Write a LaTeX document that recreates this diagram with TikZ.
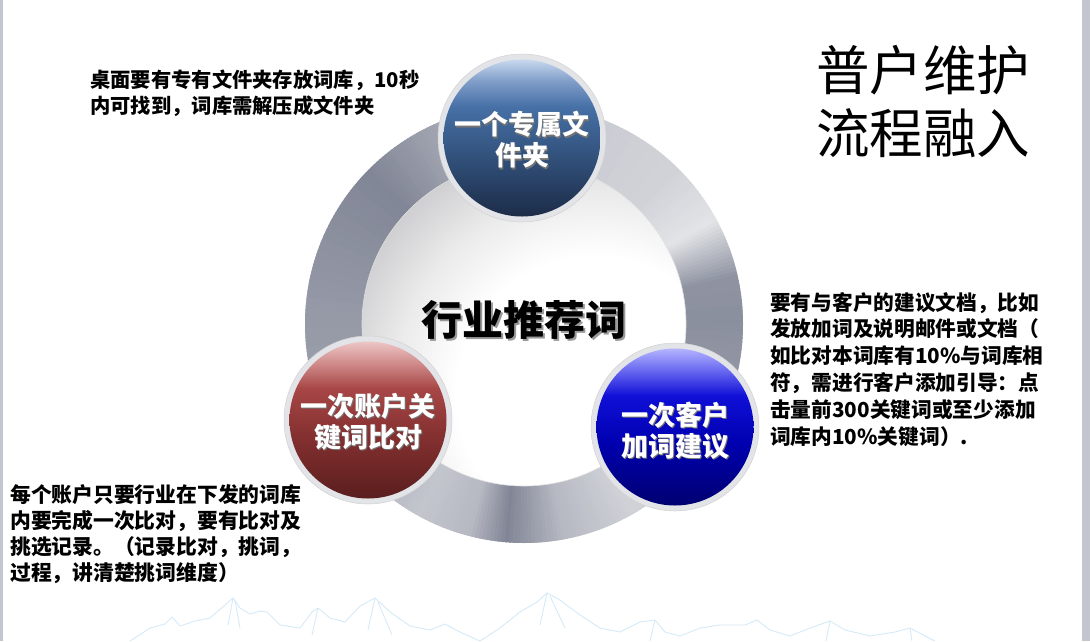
\documentclass[tikz,border=0pt]{standalone}
\usepackage{fontspec}
\setmainfont{Noto Sans CJK SC}
\definecolor{ringbase}{HTML}{7A7F90}
\definecolor{edgegray}{HTML}{C3C6CF}
\definecolor{rimgray}{HTML}{E3E4E8}
\definecolor{mount}{HTML}{D6EAF7}
\definecolor{discedge}{HTML}{CDCDD0}
% top ball (steel blue)
\definecolor{tD}{HTML}{1C2C48}\definecolor{tM2}{HTML}{33537E}\definecolor{tM}{HTML}{4670A6}\definecolor{tH}{HTML}{7F9DC8}\definecolor{tL}{HTML}{C8D8EE}
% left ball (red)
\definecolor{rD}{HTML}{5A1E1E}\definecolor{rM2}{HTML}{843030}\definecolor{rM}{HTML}{A84646}\definecolor{rH}{HTML}{CF8A8A}\definecolor{rL}{HTML}{EDC6C6}
% right ball (blue)
\definecolor{bD}{HTML}{000070}\definecolor{bM2}{HTML}{0000B0}\definecolor{bM}{HTML}{1010D8}\definecolor{bH}{HTML}{6868F0}\definecolor{bL}{HTML}{B4B4FF}
\pgfdeclareverticalshading{ballT}{100bp}{color(0bp)=(tD); color(25bp)=(tD); color(45bp)=(tM2); color(60bp)=(tM); color(68bp)=(tH); color(75bp)=(tL); color(100bp)=(tL)}
\pgfdeclareverticalshading{ballR}{100bp}{color(0bp)=(rD); color(25bp)=(rD); color(45bp)=(rM2); color(60bp)=(rM); color(68bp)=(rH); color(75bp)=(rL); color(100bp)=(rL)}
\pgfdeclareverticalshading{ballB}{100bp}{color(0bp)=(bD); color(25bp)=(bD); color(45bp)=(bM2); color(60bp)=(bM); color(68bp)=(bH); color(75bp)=(bL); color(100bp)=(bL)}
\pgfdeclareradialshading{discshade}{\pgfpoint{0bp}{0bp}}{color(0bp)=(white); color(13bp)=(white); color(19bp)=(white!92!black); color(25bp)=(discedge); color(50bp)=(discedge)}
\tikzset{
  rimcircle/.style={circle, fill=rimgray, draw=gray!35, line width=0.5pt, minimum size=168pt, inner sep=0pt},
  ballcircle/.style={circle, shade, shading=#1, minimum size=157pt, inner sep=0pt},
  balltext/.style={text=white, align=center, inner sep=0pt, font=\bfseries\fontsize{27}{31}\selectfont},
  balltextshadow/.style={text=black!55, align=center, inner sep=0pt, font=\bfseries\fontsize{27}{31}\selectfont},
  centertext/.style={inner sep=0pt, font=\bfseries\fontsize{41}{41}\selectfont},
  notetext/.style={text=black, align=left, inner sep=0pt, anchor=north west},
  mline/.style={draw=mount, line width=0.9pt, line join=round}
}
\begin{document}
\begin{tikzpicture}[x=1pt,y=-1pt]
\useasboundingbox (0,0) rectangle (1090,641);
\fill[white] (0,0) rectangle (1090,641);
% slide edges
\fill[edgegray] (0,0) rectangle (3,641);
\fill[edgegray] (1082,0) rectangle (1090,641);

% mountains (faint line art)
\draw[mline] (130,641) -- (150,628) -- (165,624) -- (172,617) -- (180,626) -- (195,621) -- (210,618) -- (225,605) -- (233,598) -- (240,608) -- (250,614) -- (260,611) -- (267,612) -- (280,625) -- (300,628) -- (312,612) -- (318,608) -- (330,618) -- (345,622) -- (360,606) -- (375,598) -- (390,612) -- (410,626) -- (430,630) -- (445,624) -- (460,632) -- (480,641);
\draw[mline] (233,598) -- (228,625) (235,600) -- (240,628) (375,598) -- (368,630) (378,602) -- (392,635) (318,608) -- (312,635);
\draw[mline] (480,641) -- (500,628) -- (520,612) -- (537,602) -- (547,593) -- (560,600) -- (580,615) -- (600,628) -- (620,632) -- (640,622) -- (655,620) -- (665,632) -- (680,636) -- (700,628) -- (720,625) -- (745,625) -- (757,620) -- (770,630) -- (790,636) -- (810,628) -- (830,621) -- (845,630) -- (870,636) -- (895,632) -- (910,628) -- (925,636) -- (935,641);
\draw[mline] (547,593) -- (540,625) (550,596) -- (565,628) (655,620) -- (650,641) (830,621) -- (826,641) (910,628) -- (912,641);

% metallic ring (conic gradient by slices)
\coordinate (c) at (524,324);
\foreach \aa/\la/\ab/\lb in {0/88/12/85, 12/85/28/22, 28/22/45/35, 45/35/70/40, 70/40/100/55, 100/55/135/95, 135/95/175/80, 175/80/215/72, 215/72/240/45, 240/45/255/55, 255/55/265/95, 265/95/280/55, 280/55/300/35, 300/35/320/45, 320/45/340/80, 340/80/360/88} {
  \pgfmathtruncatemacro\nn{\ab-\aa-1}
  \foreach \k in {0,...,\nn} {
    \pgfmathsetmacro\ang{\aa+\k}
    \pgfmathtruncatemacro\lv{\la+(\lb-\la)*\k/(\ab-\aa)}
    \fill[ringbase!\lv!white] (c) -- ++(\ang:219pt) arc[start angle=\ang, end angle=\ang+1.6, radius=219pt] -- cycle;
  }
}
% inner disc
\begin{scope}
  \clip (c) circle[radius=162pt];
  \shade[shading=discshade] ([shift={(70pt,-70pt)}]c) circle[radius=265pt];
\end{scope}
\draw[gray!25, line width=0.6pt] (c) circle[radius=162pt];

% center text
\node[centertext, text=black!40] at (526,322) {行业推荐词};
\node[centertext, text=black] (ct) at (524,320) {行业推荐词};

% top ball
\node[rimcircle] (fr) at (522,138) {};
\node[ballcircle=ballT] (f) at (522,138) {};
\node[balltextshadow] at (523.2,141.2) {一个专属文\\件夹};
\node[balltext] (ft) at (522,140) {一个专属文\\件夹};

% left ball
\node[rimcircle] (ar) at (368,420) {};
\node[ballcircle=ballR] (a) at (368,420) {};
\node[balltextshadow] at (369.2,423.2) {一次账户关\\键词比对};
\node[balltext] (at) at (368,422) {一次账户关\\键词比对};

% right ball
\node[rimcircle] (br) at (675,427) {};
\node[ballcircle=ballB] (b) at (675,427) {};
\node[balltextshadow] at (676.2,432.2) {一次客户\\加词建议};
\node[balltext] (bt) at (675,431) {一次客户\\加词建议};

% title
\node[notetext, font=\fontsize{53.5}{63}\selectfont] (title) at (816,45) {普户维护\\流程融入};

% notes
\node[notetext, font=\bfseries\fontsize{20.3}{26}\selectfont] (n1) at (90,70) {桌面要有专有文件夹存放词库，10秒\\内可找到，词库需解压成文件夹};
\node[notetext, font=\bfseries\fontsize{20.7}{26.8}\selectfont] (n2) at (770,292) {要有与客户的建议文档，比如\\发放加词及说明邮件或文档（\\如比对本词库有10\%与词库相\\符，需进行客户添加引导：点\\击量前300关键词或至少添加\\词库内10\%关键词）.};
\node[notetext, font=\bfseries\fontsize{20.8}{26}\selectfont] (n3) at (10,484) {每个账户只要行业在下发的词库\\内要完成一次比对，要有比对及\\挑选记录。（记录比对，挑词，\\过程，讲清楚挑词维度）};
\end{tikzpicture}
\end{document}
